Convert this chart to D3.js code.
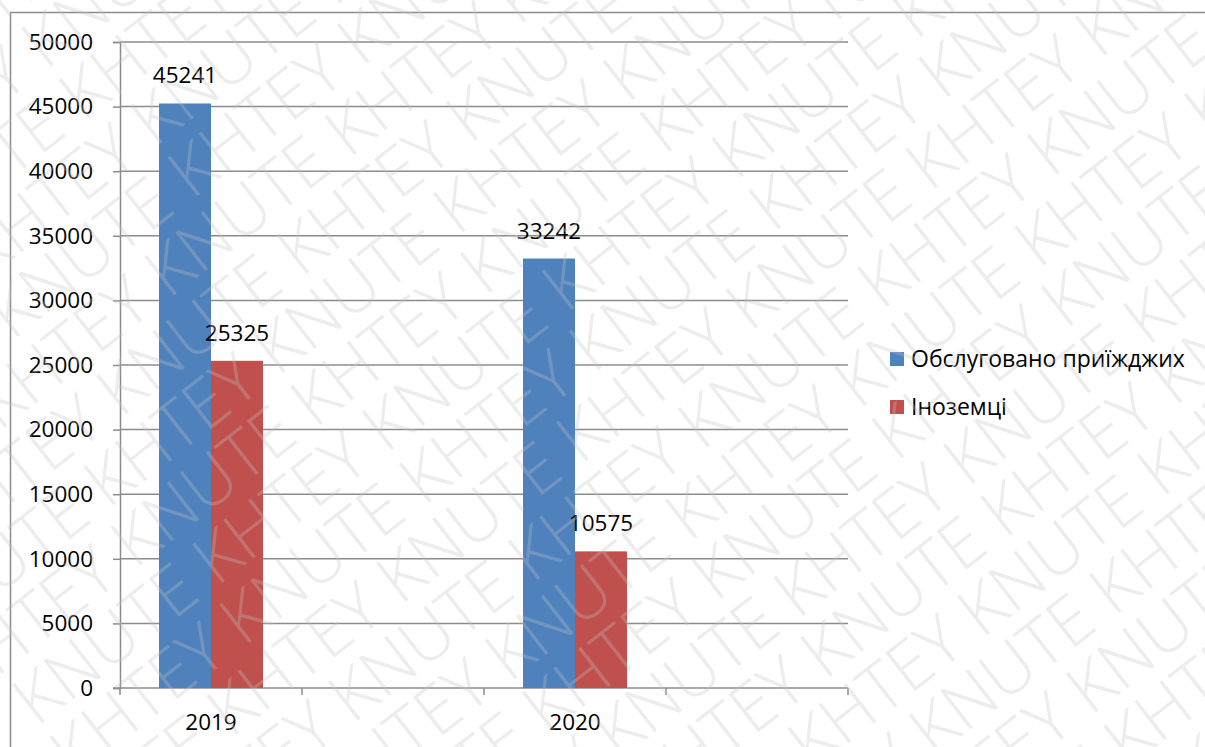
<!DOCTYPE html>
<html><head><meta charset="utf-8">
<script src="https://cdn.jsdelivr.net/npm/d3@7"></script>
<style>body{margin:0;background:#fff}svg{display:block}</style>
</head><body>
<svg id="c" width="1205" height="747"></svg>
<script>
const categories = ["2019", "", "2020", ""];
const seriesNames = ["Обслуговано приїжджих", "Іноземці"];
const visitors = [45241, null, 33242, null];
const foreigners = [25325, null, 10575, null];
const yTicks = [0, 5000, 10000, 15000, 20000, 25000, 30000, 35000, 40000, 45000, 50000];
const colors = ["#4f81bd", "#c0504d"];

const svg = d3.select("#c");
const font = "'Open Sans', sans-serif";
const fs = 22.5;
const L = 120, R = 848, T = 42, B = 688;

// outer chart border
svg.append("rect").attr("x", 10.5).attr("y", 12.5).attr("width", 1300).attr("height", 900)
  .attr("fill", "none").attr("stroke", "#8c8c8c").attr("stroke-width", 1.5);

const x = d3.scaleBand().domain(d3.range(categories.length)).range([L, R]);
const y = d3.scaleLinear().domain([0, 50000]).range([B, T]);

// gridlines
svg.append("g").selectAll("line").data(yTicks.filter(d => d > 0)).join("line")
  .attr("x1", L).attr("x2", R).attr("y1", d => y(d)).attr("y2", d => y(d))
  .attr("stroke", "#8c8c8c").attr("stroke-width", 1.5);

// y axis
const yAxis = d3.axisLeft(y).tickValues(yTicks).tickSize(7).tickPadding(20).tickFormat(d3.format("d"));
const gy = svg.append("g").attr("transform", `translate(${L},0)`).call(yAxis);
gy.select(".domain").attr("stroke", "#8c8c8c").attr("stroke-width", 1.5);
gy.selectAll(".tick line").attr("stroke", "#8c8c8c").attr("stroke-width", 1.5);
gy.selectAll("text").attr("font-family", font).attr("font-size", fs).attr("fill", "#000");

// x axis
const xs = d3.scalePoint().domain(d3.range(categories.length + 1)).range([L, R]);
const gx = svg.append("g").attr("transform", `translate(0,${B})`);
gx.append("line").attr("x1", L - 7).attr("x2", R).attr("stroke", "#8c8c8c").attr("stroke-width", 1.5);
gx.selectAll("line.t").data(xs.domain()).join("line").attr("class", "t")
  .attr("x1", d => xs(d)).attr("x2", d => xs(d)).attr("y1", 0).attr("y2", 7)
  .attr("stroke", "#8c8c8c").attr("stroke-width", 1.5);
gx.selectAll("text").data(categories).join("text")
  .attr("x", (d, i) => x(i) + x.bandwidth() / 2).attr("y", 42)
  .attr("text-anchor", "middle").attr("font-family", font).attr("font-size", fs).text(d => d);

// bars
const series = [visitors, foreigners];
const inner = d3.scaleBand().domain([0, 1]).range([0, x.bandwidth()]).paddingOuter(0.75).paddingInner(0);
series.forEach((vals, s) => {
  const g = svg.append("g");
  const data = vals.map((v, i) => ({v, i})).filter(d => d.v != null);
  g.selectAll("rect").data(data).join("rect")
    .attr("x", d => x(d.i) + inner(s)).attr("width", inner.bandwidth())
    .attr("y", d => y(d.v)).attr("height", d => B - y(d.v)).attr("fill", colors[s]);
  g.selectAll("text").data(data).join("text")
    .attr("x", d => x(d.i) + inner(s) + inner.bandwidth() / 2).attr("y", d => y(d.v) - 20)
    .attr("text-anchor", "middle").attr("font-family", font).attr("font-size", fs).text(d => d.v);
});

// legend
const lg = svg.append("g").attr("transform", "translate(890,352)");
seriesNames.forEach((n, i) => {
  lg.append("rect").attr("x", 0).attr("y", i * 48).attr("width", 14).attr("height", 14).attr("fill", colors[i]);
  lg.append("text").attr("x", 21).attr("y", i * 48 + 15).attr("font-family", font).attr("font-size", 23).text(n);
});

// watermark
const wm = svg.append("g").attr("transform", "rotate(-38)").attr("opacity", 0.3).attr("pointer-events", "none");
const word = "KNUTE KHTEY KNUTE KHTEY KNUTE KHTEY KNUTE KHTEY";
d3.range(0, 22).forEach(k => {
  wm.append("text")
    .attr("x", -600 + (k % 2) * 190 - (k * 41) % 120).attr("y", k * 64 + 20)
    .attr("font-family", font).attr("font-size", 68).attr("font-weight", 300)
    .attr("fill", "#c4c4c4")
    .text(word);
});
</script>
</body></html>
